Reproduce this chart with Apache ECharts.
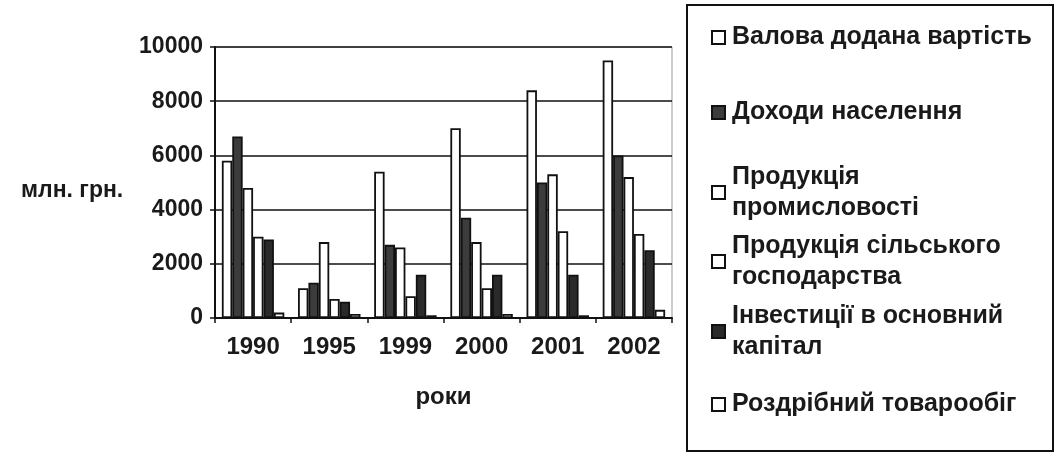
<!DOCTYPE html>
<html>
<head>
<meta charset="utf-8">
<script src="https://cdn.jsdelivr.net/npm/echarts@6/dist/echarts.min.js"></script>
<style>
  html, body { margin: 0; padding: 0; background: #fff; }
  #chart { width: 1057px; height: 453px; }
</style>
</head>
<body>
<div id="chart"></div>
<script>
// роки
const years = ['1990', '1995', '1999', '2000', '2001', '2002'];

// млн. грн.
const valova = [5800, 1100, 5400, 7000, 8400, 9500];
const dohody = [6700, 1300, 2700, 3700, 5000, 6000];
const promysl = [4800, 2800, 2600, 2800, 5300, 5200];
const silgosp = [3000, 700, 800, 1100, 3200, 3100];
const investytsii = [2900, 600, 1600, 1600, 1600, 2500];
const rozdribnyi = [200, 150, 100, 150, 100, 300];

const yTicks = [0, 2000, 4000, 6000, 8000, 10000];

const names = [
    'Валова додана вартість',
    'Доходи населення',
    'Продукція промисловості',
    'Продукція сільського господарства',
    'Інвестиції в основний капітал',
    'Роздрібний товарообіг'
];
const legendText = [
    'Валова додана вартість',
    'Доходи населення',
    'Продукція\nпромисловості',
    'Продукція сільського\nгосподарства',
    'Інвестиції в основний\nкапітал',
    'Роздрібний товарообіг'
];
const values = [valova, dohody, promysl, silgosp, investytsii, rozdribnyi];
const fills = ['#ffffff', '#3c3c3c', '#ffffff', '#ffffff', '#2a2a2a', '#ffffff'];
const legendCenters = [33, 108, 188, 257, 327, 400];

const font = 'Liberation Sans, Arial, sans-serif';

const chart = echarts.init(document.getElementById('chart'));

const series = names.map((n, i) => ({
    name: n,
    type: 'bar',
    data: values[i],
    barGap: '0%',
    barCategoryGap: '18%',
    itemStyle: { color: fills[i], borderColor: '#111', borderWidth: 1.8 },
    emphasis: { disabled: true }
}));

const legends = names.map((n, i) => {
    const twoLines = legendText[i].indexOf('\n') >= 0;
    return {
        data: [n],
        left: 706,
        top: legendCenters[i] - (twoLines ? 47 : 16),
        orient: 'vertical',
        icon: 'rect',
        itemWidth: 13,
        itemHeight: 13,
        formatter: () => legendText[i],
        selectedMode: false,
        textStyle: {
            fontFamily: font,
            fontWeight: 'bold',
            fontSize: 25,
            lineHeight: 31,
            color: '#1a1a1a',
            padding: twoLines ? [31, 0, 0, 2] : [0, 0, 0, 2]
        }
    };
});

chart.setOption({
    animation: false,
    backgroundColor: '#fff',
    title: {
        text: 'млн. грн.',
        left: 16,
        top: 174,
        textStyle: { fontFamily: font, fontWeight: 'bold', fontSize: 23, color: '#1a1a1a' }
    },
    legend: legends,
    grid: { left: 215, right: 385, top: 47, bottom: 135, show: true, borderColor: '#999', borderWidth: 1 },
    xAxis: {
        type: 'category',
        data: years,
        name: 'роки',
        nameLocation: 'middle',
        nameGap: 67,
        nameTextStyle: { fontFamily: font, fontWeight: 'bold', fontSize: 24, color: '#1a1a1a' },
        axisLine: { lineStyle: { color: '#111', width: 2 } },
        axisTick: { show: true, length: 5, lineStyle: { color: '#111', width: 1.5 } },
        axisLabel: { margin: 17, fontFamily: font, fontWeight: 'bold', fontSize: 24, color: '#1a1a1a' }
    },
    yAxis: {
        type: 'value',
        min: yTicks[0],
        max: yTicks[yTicks.length - 1],
        interval: 2000,
        axisLine: { show: true, lineStyle: { color: '#111', width: 2 } },
        axisTick: { show: true, length: 5, lineStyle: { color: '#111', width: 1.5 } },
        axisLabel: {
            margin: 12, fontFamily: font, fontWeight: 'bold', fontSize: 23, color: '#1a1a1a',
            formatter: (v) => String(v)
        },
        splitLine: { lineStyle: { color: '#111', width: 1.5 } }
    },
    graphic: [{
        type: 'rect',
        shape: { x: 687, y: 5, width: 366, height: 446 },
        style: { fill: 'none', stroke: '#111', lineWidth: 2 },
        z: -1
    }],
    series: series
});
</script>
</body>
</html>
